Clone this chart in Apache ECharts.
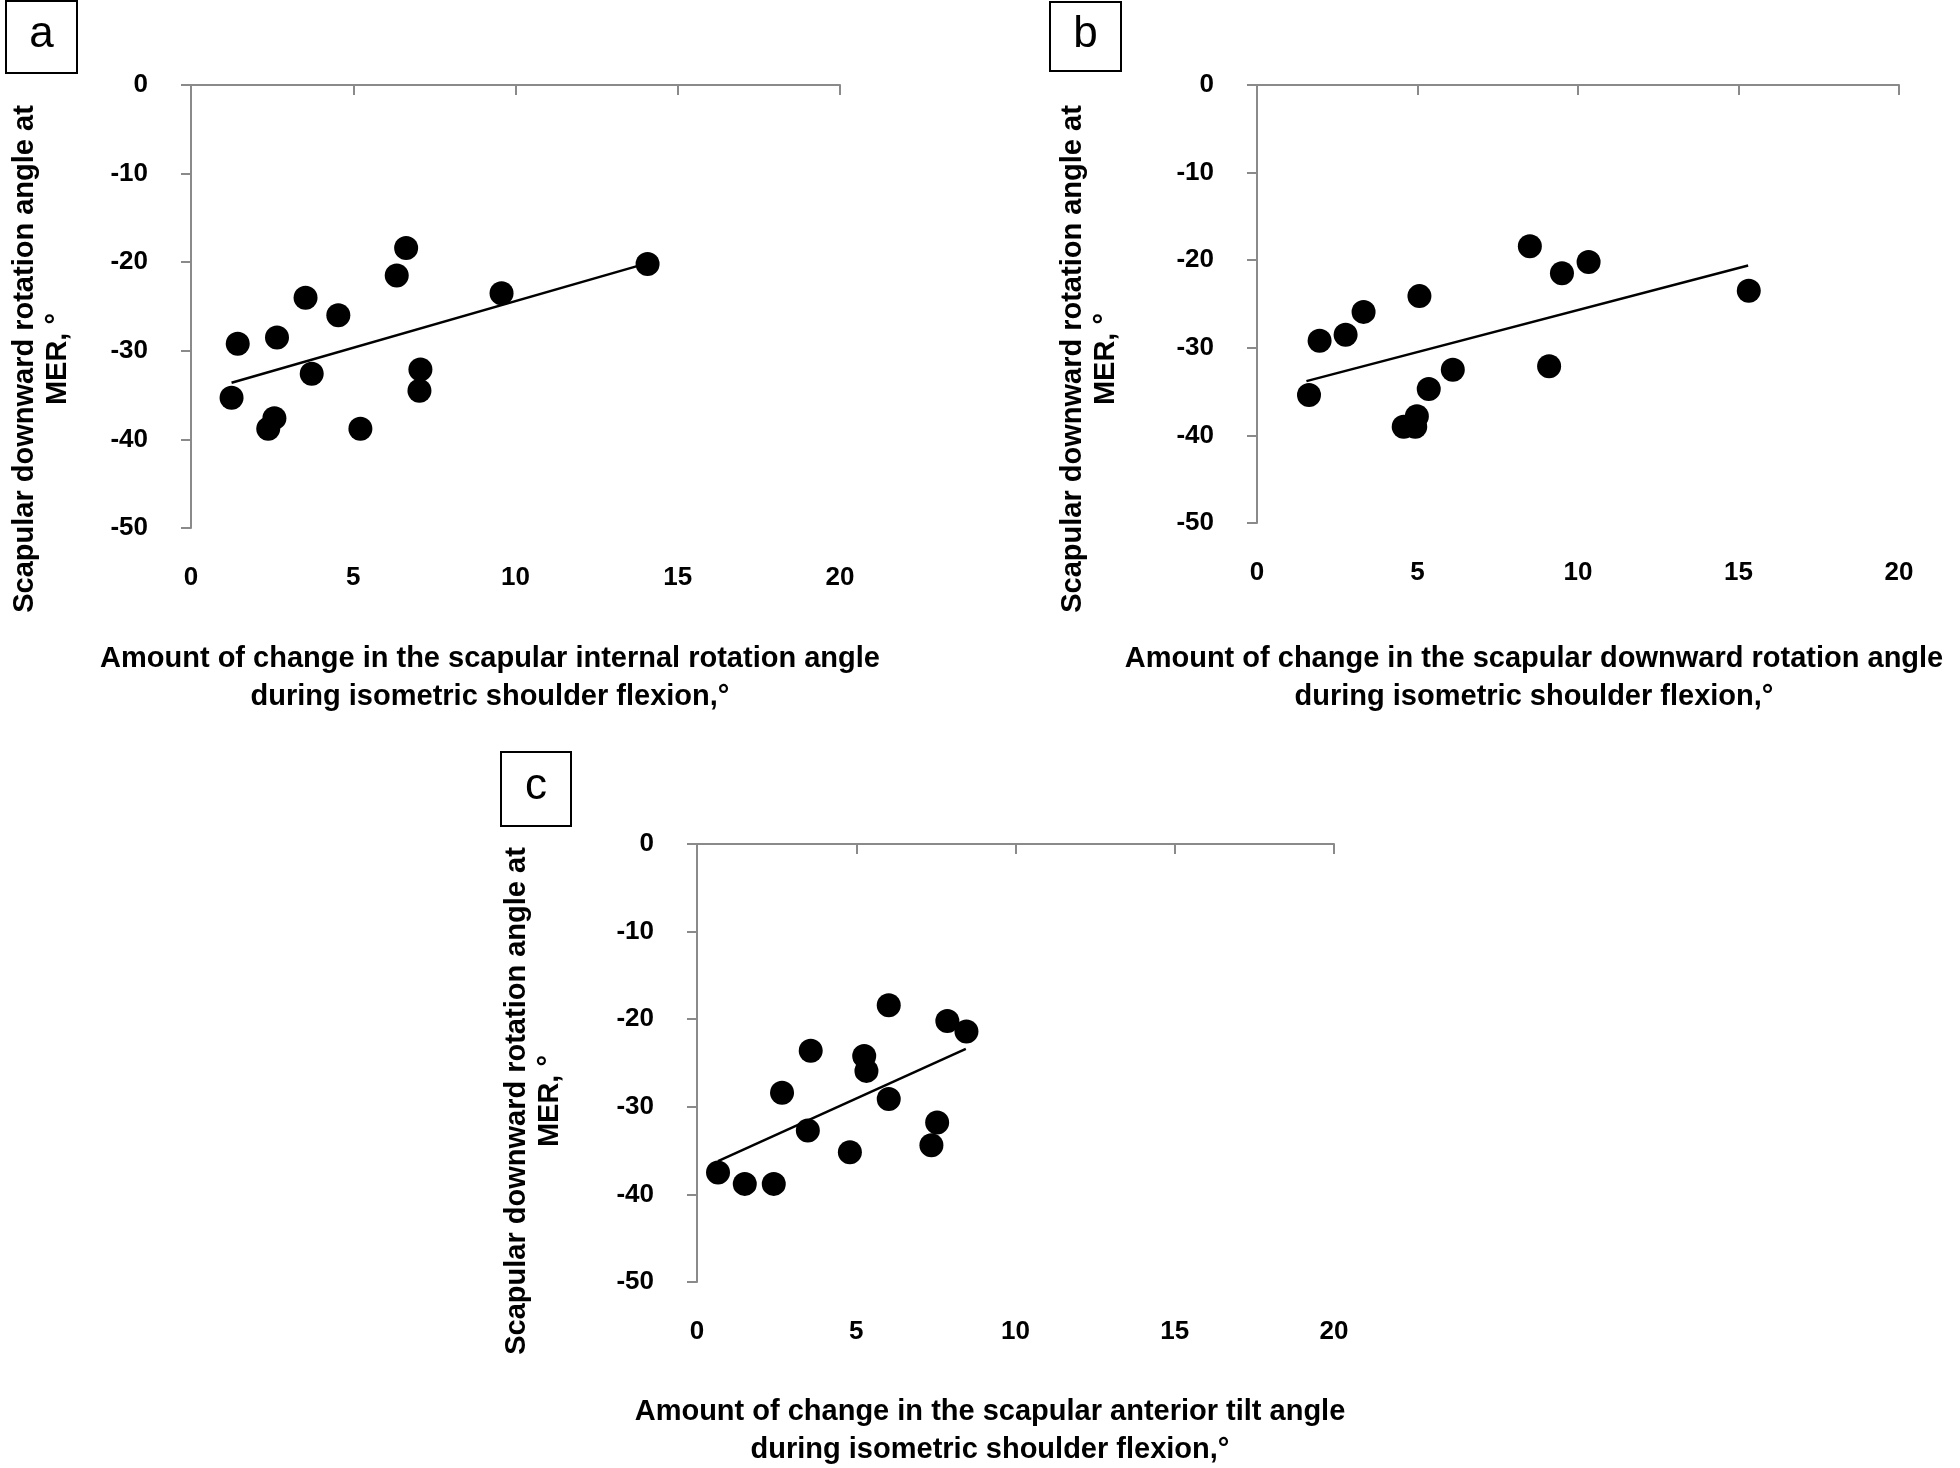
<!DOCTYPE html>
<html><head><meta charset="utf-8">
<script src="https://cdn.jsdelivr.net/npm/echarts@6/dist/echarts.min.js"></script>
<style>html,body{margin:0;padding:0;background:#fff}#c{width:1960px;height:1468px}</style>
</head><body><div id="c"></div>
<script>
// ---- data ----
const xTickLabels = [0, 5, 10, 15, 20];
const yTickLabels = [0, -10, -20, -30, -40, -50];

const aX = [1.44, 1.25, 2.65, 2.57, 2.38, 3.53, 3.72, 4.54, 5.22, 6.34, 6.63, 7.07, 7.04, 9.57, 14.07];
const aY = [-29.2, -35.3, -28.5, -37.6, -38.8, -24.0, -32.6, -26.0, -38.8, -21.5, -18.4, -32.1, -34.5, -23.5, -20.2];
const aTrendX = [1.25, 14.07];
const aTrendY = [-33.6, -20.1];

const bX = [1.62, 1.95, 2.76, 3.32, 5.06, 4.57, 4.98, 4.93, 5.35, 6.10, 8.50, 9.50, 10.33, 9.10, 15.32];
const bY = [-35.4, -29.2, -28.5, -25.9, -24.1, -39.0, -37.8, -39.0, -34.7, -32.5, -18.4, -21.5, -20.2, -32.1, -23.5];
const bTrendX = [1.54, 15.30];
const bTrendY = [-33.8, -20.6];

const cX = [0.66, 1.50, 2.41, 2.67, 3.57, 3.48, 4.80, 5.25, 5.32, 6.02, 6.02, 7.54, 7.36, 7.86, 8.46];
const cY = [-37.5, -38.8, -38.8, -28.4, -23.6, -32.7, -35.2, -24.2, -25.9, -18.4, -29.1, -31.8, -34.4, -20.2, -21.4];
const cTrendX = [0.66, 8.44];
const cTrendY = [-36.2, -23.4];

const panelLetters = ['a', 'b', 'c'];
const yTitle = 'Scapular downward rotation angle at\nMER, °';
const xTitles = [
  'Amount of change in the scapular internal rotation angle\nduring isometric shoulder flexion,°',
  'Amount of change in the scapular downward rotation angle\nduring isometric shoulder flexion,°',
  'Amount of change in the scapular anterior tilt angle\nduring isometric shoulder flexion,°'
];

// ---- layout ----
const FONT = '"Liberation Sans", Arial, sans-serif';
const grids = [
  {left: 191, top: 85, width: 649, height: 443},
  {left: 1257, top: 85, width: 642, height: 438},
  {left: 697, top: 844, width: 637, height: 438}
];
const boxes = [
  {x: 6, y: 1, w: 71, h: 72},
  {x: 1050, y: 2, w: 71, h: 69},
  {x: 501, y: 752, w: 70, h: 74}
];
const yTitlePos = [{x: 41, y: 359}, {x: 1089, y: 359}, {x: 533, y: 1101}];
const xTitlePos = [{x: 490, y: 678}, {x: 1534, y: 678}, {x: 990, y: 1431}];

const zip = (xs, ys) => xs.map((v, i) => [v, ys[i]]);
const panels = [
  {pts: zip(aX, aY), tr: zip(aTrendX, aTrendY)},
  {pts: zip(bX, bY), tr: zip(bTrendX, bTrendY)},
  {pts: zip(cX, cY), tr: zip(cTrendX, cTrendY)}
];

const axisGray = '#8a8a8a';
const xMin = xTickLabels[0], xMax = xTickLabels[xTickLabels.length - 1];
const yMin = yTickLabels[yTickLabels.length - 1], yMax = yTickLabels[0];

const option = {
  animation: false,
  backgroundColor: '#fff',
  grid: grids.map(g => Object.assign({containLabel: false}, g)),
  xAxis: [],
  yAxis: [],
  series: [],
  graphic: []
};

grids.forEach((g, i) => {
  // bottom axis: labels only
  option.xAxis.push({
    type: 'value', gridIndex: i, position: 'bottom', min: xMin, max: xMax, interval: 5,
    axisLine: {show: false, onZero: false}, axisTick: {show: false}, splitLine: {show: false},
    axisLabel: {margin: 37, color: '#000', fontSize: 26, fontWeight: 'bold', fontFamily: FONT}
  });
  // top axis: line + inward ticks
  option.xAxis.push({
    type: 'value', gridIndex: i, position: 'top', min: xMin, max: xMax, interval: 5,
    axisLine: {show: true, onZero: false, lineStyle: {color: axisGray, width: 2}},
    axisTick: {show: true, inside: true, length: 10, lineStyle: {color: axisGray, width: 2}},
    axisLabel: {show: false}, splitLine: {show: false}
  });
  option.yAxis.push({
    type: 'value', gridIndex: i, min: yMin, max: yMax, interval: 10,
    axisLine: {show: true, onZero: false, lineStyle: {color: axisGray, width: 2}},
    axisTick: {show: true, inside: false, length: 10, lineStyle: {color: axisGray, width: 2}},
    axisLabel: {margin: 43, color: '#000', fontSize: 26, fontWeight: 'bold', fontFamily: FONT,
      padding: [8, 0, 0, 0]},
    splitLine: {show: false}
  });
  option.series.push({
    type: 'line', xAxisIndex: 2 * i, yAxisIndex: i, data: panels[i].tr,
    showSymbol: false, symbol: 'none', lineStyle: {color: '#000', width: 2.5}, z: 2
  });
  option.series.push({
    type: 'scatter', xAxisIndex: 2 * i, yAxisIndex: i, data: panels[i].pts,
    symbol: 'circle', symbolSize: 24, itemStyle: {color: '#000', opacity: 1}, z: 3
  });

  const b = boxes[i];
  option.graphic.push({
    type: 'rect', shape: {x: b.x, y: b.y, width: b.w, height: b.h},
    style: {fill: '#fff', stroke: '#000', lineWidth: 2}
  });
  option.graphic.push({
    type: 'text', x: b.x + b.w / 2, y: b.y + b.h / 2 - 2,
    style: {text: panelLetters[i], fontSize: 44, fontFamily: FONT, fill: '#000', align: 'center', verticalAlign: 'middle'}
  });
  option.graphic.push({
    type: 'text', x: yTitlePos[i].x, y: yTitlePos[i].y, rotation: Math.PI / 2,
    style: {text: yTitle, fontSize: 29, fontWeight: 'bold', fontFamily: FONT, fill: '#000',
      align: 'center', verticalAlign: 'middle', lineHeight: 33}
  });
  option.graphic.push({
    type: 'text', x: xTitlePos[i].x, y: xTitlePos[i].y,
    style: {text: xTitles[i], fontSize: 29, fontWeight: 'bold', fontFamily: FONT, fill: '#000',
      align: 'center', verticalAlign: 'middle', lineHeight: 38}
  });
});

const chart = echarts.init(document.getElementById('c'), null, {renderer: 'canvas'});
chart.setOption(option);
</script></body></html>
